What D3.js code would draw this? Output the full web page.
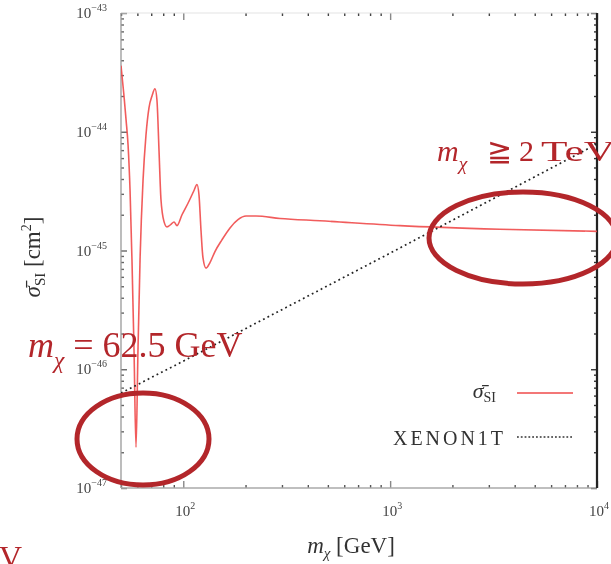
<!DOCTYPE html>
<html>
<head>
<meta charset="utf-8">
<script src="https://cdn.jsdelivr.net/npm/d3@7"></script>
<style>
  html, body { margin: 0; padding: 0; background: #fff; }
  svg { display: block; }
</style>
</head>
<body>
<div id="chart"></div>
<script>
// ── Data ──────────────────────────────────────────────────────────────────
const massGeV = [50, 51.7, 52.9, 54.1, 55.3, 56.5, 57.8, 59.1, 60.4, 61.8, 63.9, 66.0,
  68.3, 70.6, 73.0, 74.6, 76.3, 78.0, 80.7, 83.4, 87.2, 90.2, 93.3, 98.6, 105.4,
  112.7, 116.5, 119.1, 121.8, 124.5, 128.8, 134.6, 142.3, 153.8, 168.2, 183.9,
  201.1, 224.7, 293.5, 458, 1115, 3395, 10000];
const sigmaSI = [3.6e-44, 2.0e-44, 1.26e-44, 7.7e-45, 3.2e-45, 8.3e-46, 1.45e-46, 2.2e-47,
  1.45e-46, 8.3e-46, 3.9e-45, 9.3e-45, 1.6e-44, 2.0e-44, 2.3e-44, 1.85e-44, 7.1e-45,
  2.7e-45, 1.75e-45, 1.58e-45, 1.66e-45, 1.74e-45, 1.62e-45, 2.0e-45, 2.5e-45,
  3.2e-45, 3.6e-45, 2.95e-45, 1.48e-45, 8.7e-46, 7.1e-46, 7.9e-46, 9.8e-46,
  1.23e-45, 1.55e-45, 1.82e-45, 1.95e-45, 1.95e-45, 1.86e-45, 1.78e-45,
  1.62e-45, 1.51e-45, 1.45e-45];

const xenonMass  = [50, 100, 1000, 10000];
const xenonSigma = [6.3e-47, 1.17e-46, 9.5e-46, 7.9e-45];

const xTicks = [100, 1000, 10000];
const yTicks = [1e-47, 1e-46, 1e-45, 1e-44, 1e-43];

const legendLabels = ["XENON1T"];

// ── Layout ────────────────────────────────────────────────────────────────
const W = 611, H = 564;
const plot = { left: 121, right: 597, top: 13, bottom: 488 };
const serif = "'Liberation Serif', 'DejaVu Serif', serif";
const annoRed = "#b3262b";
const curveRed = "#ef4a4a";

const svg = d3.select("#chart").append("svg")
  .attr("width", W).attr("height", H)
  .style("background", "#fff");

const defs = svg.append("defs");
defs.append("filter").attr("id", "soft")
  .append("feGaussianBlur").attr("stdDeviation", 0.55);
defs.append("clipPath").attr("id", "plotClip")
  .append("rect")
    .attr("x", plot.left).attr("y", plot.top)
    .attr("width", plot.right - plot.left)
    .attr("height", plot.bottom - plot.top);

const root = svg.append("g").attr("filter", "url(#soft)");

const x = d3.scaleLog().domain([50, 1e4]).range([plot.left, plot.right]);
const y = d3.scaleLog().domain([1e-47, 1e-43]).range([plot.bottom, plot.top]);

// minor tick positions (2..9 in each decade)
function minors(scale) {
  const [a, b] = scale.domain();
  const out = [];
  for (let e = Math.floor(Math.log10(a)); e < Math.ceil(Math.log10(b)); e++) {
    for (let k = 2; k <= 9; k++) {
      const v = k * Math.pow(10, e);
      if (v >= a && v <= b) out.push(v);
    }
  }
  return out;
}

// ── Axes: ticks inward on all four sides ──────────────────────────────────
function tickAxis(axisFn, scale, vals, size, pos, color) {
  const g = root.append("g")
    .attr("transform", pos)
    .call(axisFn(scale).tickValues(vals).tickSize(size).tickFormat(""));
  g.select(".domain").remove();
  g.selectAll(".tick line").attr("stroke", color).attr("stroke-width", 1.4);
  return g;
}
tickAxis(d3.axisLeft,   y, minors(y), -3, `translate(${plot.left},0)`, "#666");
tickAxis(d3.axisLeft,   y, yTicks,    -6, `translate(${plot.left},0)`, "#666");
tickAxis(d3.axisRight,  y, minors(y), -3, `translate(${plot.right},0)`, "#333");
tickAxis(d3.axisRight,  y, yTicks,    -6, `translate(${plot.right},0)`, "#333");
tickAxis(d3.axisBottom, x, minors(x), -3, `translate(0,${plot.bottom})`, "#555");
tickAxis(d3.axisBottom, x, xTicks,    -7, `translate(0,${plot.bottom})`, "#888");
tickAxis(d3.axisTop,    x, minors(x), -3, `translate(0,${plot.top})`, "#444");
tickAxis(d3.axisTop,    x, xTicks,    -7, `translate(0,${plot.top})`, "#888");

// border lines (uneven in the reference)
root.append("line")
  .attr("x1", plot.left).attr("x2", plot.right).attr("y1", plot.top).attr("y2", plot.top)
  .attr("stroke", "#e4e4e4").attr("stroke-width", 1.2);
root.append("line")
  .attr("x1", plot.left).attr("x2", plot.left).attr("y1", plot.top).attr("y2", plot.bottom)
  .attr("stroke", "#999").attr("stroke-width", 1.3);
root.append("line")
  .attr("x1", plot.left).attr("x2", plot.right).attr("y1", plot.bottom).attr("y2", plot.bottom)
  .attr("stroke", "#aaa").attr("stroke-width", 1.3);
root.append("line")
  .attr("x1", plot.right).attr("x2", plot.right).attr("y1", plot.top).attr("y2", plot.bottom)
  .attr("stroke", "#222").attr("stroke-width", 2.2);

// ── Tick labels ───────────────────────────────────────────────────────────
function powLabel(sel, v) {
  const e = Math.round(Math.log10(v));
  sel.append("tspan").text("10");
  sel.append("tspan").attr("dy", -7).attr("font-size", 10).text(e < 0 ? "\u2212" + (-e) : e);
}
yTicks.forEach(v => {
  root.append("text")
    .attr("x", 107).attr("y", y(v) + 5)
    .attr("text-anchor", "end")
    .attr("font-family", serif).attr("font-size", 15).attr("fill", "#444")
    .call(powLabel, v);
});
xTicks.forEach(v => {
  root.append("text")
    .attr("x", x(v) + 2).attr("y", 516)
    .attr("text-anchor", "middle")
    .attr("font-family", serif).attr("font-size", 15).attr("fill", "#444")
    .call(powLabel, v);
});

// ── Axis titles ───────────────────────────────────────────────────────────
const xt = root.append("text")
  .attr("x", 351).attr("y", 553).attr("text-anchor", "middle")
  .attr("font-family", serif).attr("font-size", 23).attr("fill", "#333");
xt.append("tspan").attr("font-style", "italic").text("m");
xt.append("tspan").attr("dy", 5).attr("font-size", 15).attr("font-style", "italic").text("\u03c7");
xt.append("tspan").attr("dy", -5).text(" [GeV]");

const yt = root.append("text")
  .attr("transform", "translate(40,257) rotate(-90)")
  .attr("text-anchor", "middle")
  .attr("font-family", serif).attr("font-size", 23).attr("fill", "#333");
yt.append("tspan").attr("font-style", "italic").text("\u03c3\u0304");
yt.append("tspan").attr("dy", 5).attr("font-size", 15).text("SI");
yt.append("tspan").attr("dy", -5).text(" [cm");
yt.append("tspan").attr("dy", -9).attr("font-size", 14).text("2");
yt.append("tspan").attr("dy", 9).text("]");

// ── Series ────────────────────────────────────────────────────────────────
const curve = root.append("g").attr("clip-path", "url(#plotClip)");

const sigmaLine = d3.line()
  .x((d, i) => x(massGeV[i]))
  .y(d => y(d))
  .curve(d3.curveMonotoneX);
curve.append("path")
  .datum(sigmaSI)
  .attr("d", sigmaLine)
  .attr("fill", "none")
  .attr("stroke", curveRed)
  .attr("stroke-width", 1.6)
  .attr("opacity", 0.9);

const xenonLine = d3.line()
  .x((d, i) => x(xenonMass[i]))
  .y(d => y(d));
curve.append("path")
  .datum(xenonSigma)
  .attr("d", xenonLine)
  .attr("fill", "none")
  .attr("stroke", "#222")
  .attr("stroke-width", 1.7)
  .attr("stroke-dasharray", "1.8,3.2");

// ── Legend ────────────────────────────────────────────────────────────────
const lg = root.append("text")
  .attr("x", 496).attr("y", 398).attr("text-anchor", "end")
  .attr("font-family", serif).attr("font-size", 22).attr("fill", "#333");
lg.append("tspan").attr("font-style", "italic").text("\u03c3\u0304");
lg.append("tspan").attr("dy", 4).attr("font-size", 14).text("SI");
root.append("line")
  .attr("x1", 517).attr("x2", 573).attr("y1", 393).attr("y2", 393)
  .attr("stroke", curveRed).attr("stroke-width", 1.6);

root.append("text")
  .attr("x", 503).attr("y", 445).attr("text-anchor", "end")
  .attr("font-family", serif).attr("font-size", 20).attr("fill", "#333")
  .attr("textLength", 110).attr("lengthAdjust", "spacing")
  .text(legendLabels[0]);
root.append("line")
  .attr("x1", 517).attr("x2", 573).attr("y1", 437).attr("y2", 437)
  .attr("stroke", "#333").attr("stroke-width", 1.7)
  .attr("stroke-dasharray", "1.8,2");

// ── Hand annotations ──────────────────────────────────────────────────────
root.append("ellipse")
  .attr("cx", 143).attr("cy", 439).attr("rx", 66).attr("ry", 46)
  .attr("fill", "none").attr("stroke", annoRed).attr("stroke-width", 5);
root.append("ellipse")
  .attr("cx", 523).attr("cy", 238).attr("rx", 94).attr("ry", 46)
  .attr("fill", "none").attr("stroke", annoRed).attr("stroke-width", 5);

function massSymbol(xp, yp, size) {
  const t = root.append("text")
    .attr("x", xp).attr("y", yp)
    .attr("font-family", serif).attr("font-size", size).attr("fill", annoRed);
  t.append("tspan").attr("font-style", "italic").text("m");
  t.append("tspan").attr("dy", size * 0.3).attr("font-size", size * 0.65)
    .attr("font-style", "italic").text("\u03c7");
  return t;
}
massSymbol(28, 357, 36)
  .append("tspan").attr("dy", -36 * 0.3).text(" = 62.5 GeV");

const hi = massSymbol(437, 161, 30);
hi.append("tspan").attr("x", 487).attr("dy", -9).text("\u2267");
hi.append("tspan").attr("x", 519).text("2");
hi.append("tspan").attr("x", 541).attr("textLength", 74).attr("lengthAdjust", "spacingAndGlyphs").text("TeV");

// clipped fragment at the bottom-left corner
root.append("text")
  .attr("x", -1).attr("y", 568)
  .attr("font-family", serif).attr("font-size", 32).attr("fill", annoRed)
  .text("V");
</script>
</body>
</html>
